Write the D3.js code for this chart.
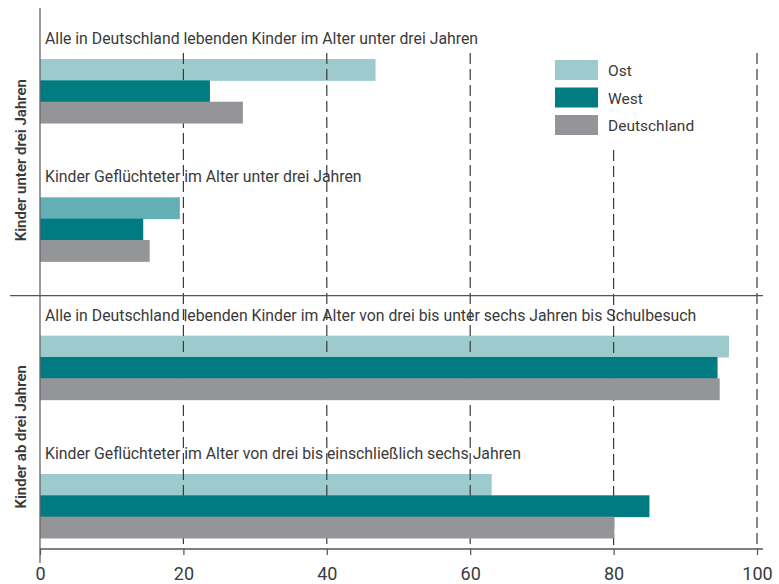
<!DOCTYPE html>
<html>
<head>
<meta charset="utf-8">
<script src="https://cdn.jsdelivr.net/npm/d3@7"></script>
<style>
  body { margin: 0; background: #fff; }
  text { font-family: Roboto, "Noto Sans", sans-serif; fill: #3a3a3a; }
</style>
</head>
<body>
<script>
// data
let groups = [
  "Alle in Deutschland lebenden Kinder im Alter unter drei Jahren",
  "Kinder Geflüchteter im Alter unter drei Jahren",
  "Alle in Deutschland lebenden Kinder im Alter von drei bis unter sechs Jahren bis Schulbesuch",
  "Kinder Geflüchteter im Alter von drei bis einschließlich sechs Jahren"
];
let series = ["Ost", "West", "Deutschland"];
let ost = [46.8, 19.5, 96.1, 63.0];
let west = [23.7, 14.4, 94.5, 85.0];
let deutschland = [28.3, 15.3, 94.8, 80.1];
let panels = ["Kinder unter drei Jahren", "Kinder ab drei Jahren"];
let xTicks = [0, 20, 40, 60, 80, 100];

let width = 779, height = 584;

let color = d3.scaleOrdinal(series, ["#9ccacd", "#007b82", "#939598"]);
let ostRefugeeColor = "#64afb6";

let svg = d3.select("body").append("svg")
    .attr("width", width)
    .attr("height", height);

let x = d3.scaleLinear().domain([0, 100]).range([40, 757]);

let y = d3.scaleBand()
    .domain(groups)
    .range([59, 538])
    .paddingInner(0.537)
    .paddingOuter(0);

let ySeries = d3.scaleBand().domain(series).range([0, y.bandwidth()]);

let rows = groups.map((g, i) => ({
  group: g,
  i: i,
  values: [
    { key: "Ost", value: ost[i] },
    { key: "West", value: west[i] },
    { key: "Deutschland", value: deutschland[i] }
  ]
}));

let sepY = y(groups[2]) - 40;
let bottomY = 549;
let gridTop = y(groups[0]) - 6;

// Ost bars sit under the grid lines, West / Deutschland on top of them
let layerOst = svg.append("g");
let layerGrid = svg.append("g");
let layerBars = svg.append("g");

rows.forEach(r => {
  r.values.forEach(v => {
    let layer = v.key === "Ost" ? layerOst : layerBars;
    layer.append("rect")
      .attr("x", x(0))
      .attr("y", y(r.group) + ySeries(v.key))
      .attr("width", x(v.value) - x(0))
      .attr("height", ySeries.bandwidth() + 0.5)
      .attr("fill", v.key === "Ost" && r.i === 1 ? ostRefugeeColor : color(v.key));
  });
});

// dashed grid lines
layerGrid.selectAll("line")
  .data(xTicks.slice(1))
  .enter().append("line")
  .attr("x1", d => x(d)).attr("x2", d => x(d))
  .attr("y1", d => d === 80 ? 150 : gridTop)
  .attr("y2", bottomY)
  .attr("stroke", "#3a3a3a")
  .attr("stroke-width", 1.2)
  .attr("stroke-dasharray", "11,5");

// group titles
svg.append("g").selectAll("text")
  .data(groups)
  .enter().append("text")
  .attr("x", 45)
  .attr("y", d => y(d) - 15)
  .style("font-size", "15.8px")
  .text(d => d);

// frame lines
svg.append("line")
  .attr("x1", x(0)).attr("x2", x(0))
  .attr("y1", 8).attr("y2", 563)
  .attr("stroke", "#666").attr("stroke-width", 1.3);
svg.append("line")
  .attr("x1", 10).attr("x2", 763)
  .attr("y1", sepY).attr("y2", sepY)
  .attr("stroke", "#555").attr("stroke-width", 1.3);

// x axis
let axis = svg.append("g")
  .attr("transform", "translate(0," + bottomY + ")")
  .call(d3.axisBottom(x).tickValues(xTicks).tickSize(6).tickPadding(12));
axis.select(".domain").remove();
axis.selectAll(".tick line").attr("stroke", "#555").attr("stroke-width", 1.2);
axis.selectAll(".tick text")
  .style("font-family", "Roboto, 'Noto Sans', sans-serif")
  .style("font-size", "18px")
  .attr("fill", "#3a3a3a");
svg.append("line")
  .attr("x1", x(0)).attr("x2", 763)
  .attr("y1", bottomY).attr("y2", bottomY)
  .attr("stroke", "#555").attr("stroke-width", 1.3);

// panel labels
let panelCenters = [
  (y(groups[0]) + y(groups[1]) + y.bandwidth()) / 2,
  (y(groups[2]) + y(groups[3]) + y.bandwidth()) / 2
];
svg.append("g").selectAll("text")
  .data(panels)
  .enter().append("text")
  .attr("transform", (d, i) => "translate(26," + panelCenters[i] + ") rotate(-90)")
  .attr("text-anchor", "middle")
  .style("font-size", "15px")
  .style("font-weight", "600")
  .text(d => d);

// legend
let legend = svg.append("g").attr("transform", "translate(555,60)");
let li = legend.selectAll("g")
  .data(series)
  .enter().append("g")
  .attr("transform", (d, i) => "translate(0," + i * 27.5 + ")");
li.append("rect")
  .attr("width", 43).attr("height", 20)
  .attr("fill", d => color(d));
li.append("text")
  .attr("x", 53).attr("y", 16)
  .style("font-size", "15.5px")
  .text(d => d);
</script>
</body>
</html>
